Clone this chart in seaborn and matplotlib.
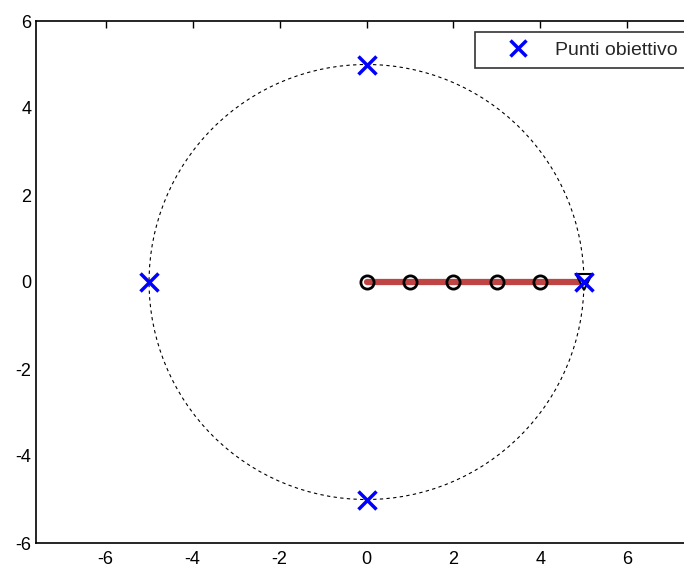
import matplotlib
matplotlib.use("Agg")
import matplotlib.pyplot as plt
from matplotlib.patches import Circle
import seaborn as sns
import pandas as pd

# Data
target_x = [0, 5, -5, 0]
target_y = [5, 0, 0, -5]
path_x = [0, 1, 2, 3, 4, 5]
path_y = [0, 0, 0, 0, 0, 0]
step_x = [0, 1, 2, 3, 4]
step_y = [0, 0, 0, 0, 0]
end_x = [5]
end_y = [0]
circle_radius = 5
x_ticks = [-6, -4, -2, 0, 2, 4, 6]
y_ticks = [-6, -4, -2, 0, 2, 4, 6]
legend_label = "Punti obiettivo"

sns.set_style("white")
plt.rcParams['font.family'] = ['Liberation Sans', 'DejaVu Sans']
plt.rcParams['axes.unicode_minus'] = False

fig = plt.figure(figsize=(6.84, 5.69), dpi=100)
W, H = 684, 569
ax = fig.add_axes([36 / W, 26 / H, 661 / W, 522 / H])

ax.add_patch(Circle((0, 0), circle_radius, fill=False, ls=(0, (3, 3)),
                    lw=0.8, ec='black', zorder=1))

df_path = pd.DataFrame({"x": path_x, "y": path_y})
sns.lineplot(data=df_path, x="x", y="y", ax=ax, color=(0.75, 0.27, 0.27),
             lw=4.5, zorder=2, sort=False)

ax.plot(step_x, step_y, 'o', ms=9.5, mfc='none', mec='black', mew=2, zorder=3)
ax.plot(end_x, end_y, 'v', ms=11, mfc='white', mec='black', mew=1.5, zorder=4)
ax.plot(target_x, target_y, 'x', ms=13, mew=2.5, color=(0, 0, 1),
        zorder=5, label=legend_label, ls='none')

ax.set_xlim(-7.6, 7.6)
ax.set_ylim(-6, 6)
ax.set_xticks(x_ticks)
ax.set_yticks(y_ticks)
ax.set_xlabel("")
ax.set_ylabel("")
ax.tick_params(direction='in', length=5, width=1, labelsize=13, colors='black',
               top=True, right=True)
ax.tick_params(axis='x', pad=6)
for s in ax.spines.values():
    s.set_color('black')
    s.set_linewidth(1.2)
ax.spines['right'].set_visible(False)

leg = ax.legend(loc='upper left', bbox_to_anchor=((475 - 36) / 661, (543 - 32) / 522),
                fontsize=14, frameon=True, fancybox=False, edgecolor='black',
                borderpad=0.46, handlelength=3.5, handletextpad=0.14,
                borderaxespad=0, markerscale=0.9)
leg.get_frame().set_linewidth(1.2)

fig.savefig("out.png", dpi=100)
